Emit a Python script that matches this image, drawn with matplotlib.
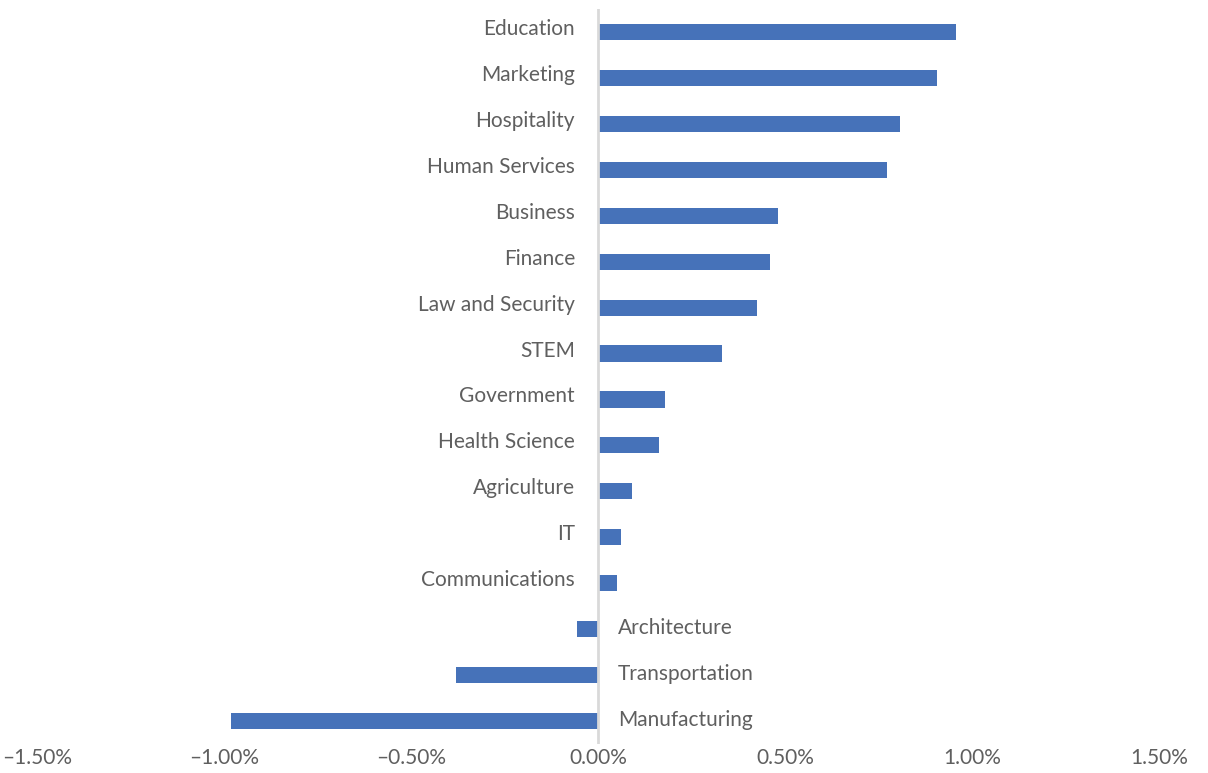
import matplotlib
matplotlib.use("Agg")
import matplotlib.pyplot as plt
import matplotlib.transforms as mtransforms
from matplotlib.ticker import FuncFormatter

categories = ["Education", "Marketing", "Hospitality", "Human Services", "Business",
              "Finance", "Law and Security", "STEM", "Government", "Health Science",
              "Agriculture", "IT", "Communications", "Architecture", "Transportation",
              "Manufacturing"]
values = [0.957, 0.907, 0.808, 0.773, 0.480, 0.459, 0.424, 0.331, 0.179, 0.163,
          0.091, 0.061, 0.051, -0.056, -0.381, -0.982]
xticks = [-1.5, -1.0, -0.5, 0.0, 0.5, 1.0, 1.5]

txt_color = "#5f5f5f"
plt.rcParams["font.family"] = ["Lato", "DejaVu Sans"]

fig = plt.figure(figsize=(12.08, 7.73), dpi=100)
ax = fig.add_axes([37 / 1208, 29 / 773, 1122 / 1208, 735 / 773])

ypos = list(range(len(categories)))
ax.barh(ypos, values, height=0.35, color="#4672b9", zorder=2)
ax.set_ylim(len(categories) - 0.5, -0.5)
ax.set_xlim(-1.5, 1.5)

ax.axvline(0, color="#d9d9d9", lw=2, zorder=3)

for y, name, v in zip(ypos, categories, values):
    if v >= 0:
        off = mtransforms.offset_copy(ax.transData, fig=fig, x=-23, y=3, units="dots")
        ax.text(0, y, name, transform=off, ha="right", va="center",
                fontsize=15, color=txt_color)
    else:
        off = mtransforms.offset_copy(ax.transData, fig=fig, x=20, y=1, units="dots")
        ax.text(0, y, name, transform=off, ha="left", va="center",
                fontsize=15, color=txt_color)

ax.set_xticks(xticks)
ax.xaxis.set_major_formatter(FuncFormatter(lambda v, p: f"{v:.2f}%".replace("-", "\u2013")))
ax.tick_params(axis="x", length=0, labelsize=15, labelcolor=txt_color, pad=3)
ax.set_yticks([])
for s in ax.spines.values():
    s.set_visible(False)

fig.savefig("out.png", dpi=100)
